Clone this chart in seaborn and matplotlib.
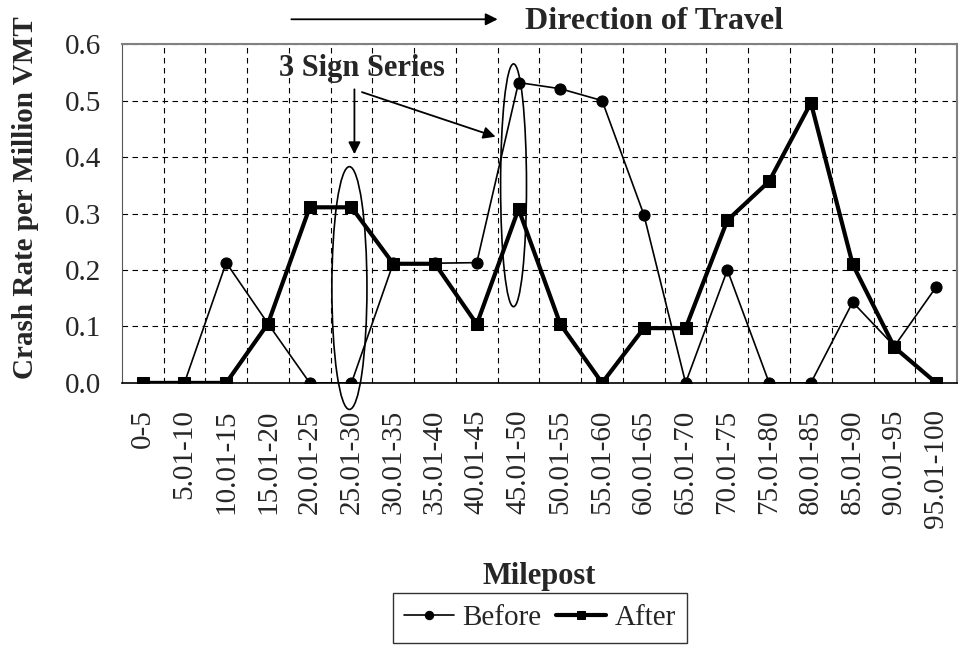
import matplotlib
matplotlib.use("Agg")
import matplotlib.pyplot as plt
from matplotlib.patches import Ellipse
import seaborn as sns
import pandas as pd
import numpy as np

mileposts = ["0-5", "5.01-10", "10.01-15", "15.01-20", "20.01-25", "25.01-30",
             "30.01-35", "35.01-40", "40.01-45", "45.01-50", "50.01-55", "55.01-60",
             "60.01-65", "65.01-70", "70.01-75", "75.01-80", "80.01-85", "85.01-90",
             "90.01-95", "95.01-100"]
before = [0.0, 0.0, 0.213, 0.105, 0.0, 0.0, 0.212, 0.212, 0.213, 0.532,
          0.521, 0.500, 0.298, 0.0, 0.200, 0.0, 0.0, 0.143, 0.065, 0.170]
after = [0.0, 0.0, 0.0, 0.105, 0.311, 0.311, 0.211, 0.211, 0.104, 0.308,
         0.104, 0.0, 0.097, 0.097, 0.288, 0.357, 0.496, 0.210, 0.063, 0.0]
yticks = [0.0, 0.1, 0.2, 0.3, 0.4, 0.5, 0.6]

sns.set_style("white")
plt.rcParams['font.family'] = ['Liberation Serif', 'DejaVu Serif']

df = pd.DataFrame({"Milepost": mileposts, "Before": before, "After": after})

fig = plt.figure(figsize=(9.59, 6.49), dpi=100)
ax = fig.add_axes([0.127, 0.41, 0.871, 0.522])

sns.lineplot(data=df, x="Milepost", y="Before", sort=False, ax=ax, color="black",
             linewidth=1.2, marker="o", markersize=8, markeredgecolor="black",
             label="Before", zorder=4)
sns.lineplot(data=df, x="Milepost", y="After", sort=False, ax=ax, color="black",
             linewidth=3, marker="s", markersize=8, markeredgecolor="black",
             label="After", zorder=5)

n = len(mileposts)
ax.set_xlim(-0.5, n - 0.5)
ax.set_ylim(0, 0.6)
ax.set_yticks(yticks)
ax.set_yticklabels([f"{v:.1f}" for v in yticks], fontsize=21)
ax.set_xticks(range(n))
ax.set_xticklabels(mileposts, rotation=90, fontsize=21)
ax.tick_params(axis="x", which="major", length=0, pad=19)
ax.set_xticks(np.arange(0.5, n - 0.5, 1), minor=True)
ax.tick_params(axis="x", which="minor", length=5, direction="out", color="black")
ax.tick_params(axis="y", which="major", length=7, direction="out", color="black", pad=8)

# dashed grid
ax.grid(False)
ax.grid(True, which="minor", axis="x", linestyle=(0, (5, 4)), color="black", linewidth=0.8)
ax.grid(True, which="major", axis="y", linestyle=(0, (5, 4)), color="black", linewidth=0.8)

for side in ["top", "right"]:
    ax.spines[side].set_color("#808080")
    ax.spines[side].set_linewidth(1.5)
ax.spines["left"].set_color("#555555")
ax.spines["bottom"].set_color("black")
ax.spines["bottom"].set_linewidth(1.2)

ax.set_ylabel("Crash Rate per Million VMT", fontsize=21, fontweight="bold")
ax.yaxis.set_label_coords(-0.099, 0.546)
ax.set_xlabel("Milepost", fontsize=22, fontweight="bold")
ax.xaxis.set_label_coords(0.5, -0.53)

# annotations
ax.add_patch(Ellipse((4.95, 0.168), 0.84, 0.43, fill=False, edgecolor="black",
                     linewidth=1.2, clip_on=False, zorder=6))
ax.add_patch(Ellipse((8.88, 0.35), 0.62, 0.43, fill=False, edgecolor="black",
                     linewidth=1.2, clip_on=False, zorder=6))
ax.text(5.24, 0.557, "3 Sign Series", fontsize=22, fontweight="bold",
        ha="center", va="center", zorder=7)
arrow = dict(arrowstyle="-|>", color="black", linewidth=1.3, mutation_scale=18,
             shrinkA=0, shrinkB=0)
ax.annotate("", xy=(5.07, 0.405), xytext=(5.07, 0.52), arrowprops=arrow, zorder=7)
ax.annotate("", xy=(8.45, 0.436), xytext=(5.25, 0.515), arrowprops=arrow, zorder=7)
ax.annotate("", xy=(8.5, 0.644), xytext=(3.56, 0.644), arrowprops=arrow,
            annotation_clip=False)
ax.text(12.25, 0.640, "Direction of Travel", fontsize=23, fontweight="bold",
        ha="center", va="center", clip_on=False)

ax.get_legend().remove()
handles, labels = ax.get_legend_handles_labels()
leg = fig.legend(handles, labels, loc="upper center", bbox_to_anchor=(540 / 959, 1 - 593 / 649),
                 ncol=2, fontsize=21, frameon=True, fancybox=False, handlelength=1.7,
                 handletextpad=0.3, columnspacing=0.5, borderpad=0.4, borderaxespad=0,
                 markerscale=0.75)
leg.get_frame().set_edgecolor("black")
leg.get_frame().set_linewidth(1.0)

fig.savefig("out.png", dpi=100)
